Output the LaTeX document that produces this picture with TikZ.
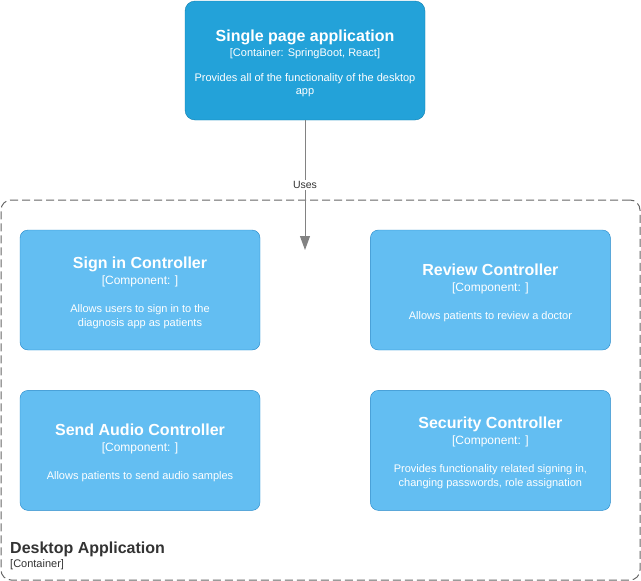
\documentclass[tikz,border=0pt]{standalone}
\usepackage{fontspec}
\setmainfont{Liberation Sans}
\usetikzlibrary{positioning,arrows.meta}
\definecolor{spablue}{HTML}{23A2D9}
\definecolor{spaline}{HTML}{0E7DAD}
\definecolor{compblue}{HTML}{63BEF2}
\definecolor{compline}{HTML}{2086C9}
\definecolor{edgegray}{HTML}{828282}
\definecolor{boundgray}{HTML}{666666}
\definecolor{labelgray}{HTML}{333333}

\begin{document}
\begin{tikzpicture}[x=1pt,y=-1pt,>={Triangle[width=10pt,length=14pt]},
    spa node/.style={draw=spaline,fill=spablue,rounded corners=10pt,minimum width=240pt,minimum height=119pt,align=center,text=white,inner sep=0pt,font=\fontsize{11}{13}\selectfont},
    comp node/.style={draw=compline,fill=compblue,rounded corners=8pt,minimum width=240pt,minimum height=120pt,align=center,text=white,inner sep=0pt,font=\fontsize{11}{14}\selectfont},
    boundary/.style={draw=boundgray,line width=1pt,dash pattern=on 8pt off 4pt,rounded corners=10pt,minimum width=639pt,minimum height=380pt},
    uses label/.style={fill=white,text=labelgray,inner sep=1pt,font=\fontsize{10.5}{12}\selectfont}]

    \useasboundingbox (0,0) rectangle (641,581);

    % container boundary
    \node[boundary] (desktop) at (320.5,390) {};
    \node[anchor=base west,inner sep=0pt,text=labelgray,font=\fontsize{16}{16}\selectfont\bfseries] (desktopname) at (10,553) {Desktop Application};
    \node[anchor=base west,inner sep=0pt,text=labelgray,font=\fontsize{11}{13}\selectfont] (desktoptype) at (10,567) {[Container]};

    % components
    \node[comp node] (signin) at (140,290) {\rule{0pt}{17pt}{\fontsize{16}{16}\selectfont\bfseries Sign in Controller}\\[2pt]
        {\fontsize{12}{14}\selectfont [Component: ]}\\[14pt]
        Allows users to sign in to the\\diagnosis app as patients};
    \node[comp node] (review) [right=110pt of signin] {\rule{0pt}{17pt}{\fontsize{16}{16}\selectfont\bfseries Review Controller}\\[2pt]
        {\fontsize{12}{14}\selectfont [Component: ]}\\[14pt]
        Allows patients to review a doctor};
    \node[comp node] (audio) [below=40pt of signin] {\rule{0pt}{17pt}{\fontsize{16}{16}\selectfont\bfseries Send Audio Controller}\\[2pt]
        {\fontsize{12}{14}\selectfont [Component: ]}\\[14pt]
        Allows patients to send audio samples};
    \node[comp node] (security) [below=40pt of review] {\rule{0pt}{16pt}{\fontsize{16}{16}\selectfont\bfseries Security Controller}\\[2pt]
        {\fontsize{12}{14}\selectfont [Component: ]}\\[14pt]
        Provides functionality related signing in,\\changing passwords, role assignation};

    % single page app
    \node[spa node] (spa) at (305,60.5) {\rule{0pt}{16.5pt}{\fontsize{16}{16}\selectfont\bfseries Single page application}\\[2pt]
        [Container: SpringBoot, React]\\[12pt]
        Provides all of the functionality of the desktop\\app};

    \coordinate (usesend) at (305,250);
    \draw[->,draw=edgegray,fill=edgegray,line width=1pt] (spa) -- node[uses label] (uses) {Uses} (usesend);
\end{tikzpicture}
\end{document}
